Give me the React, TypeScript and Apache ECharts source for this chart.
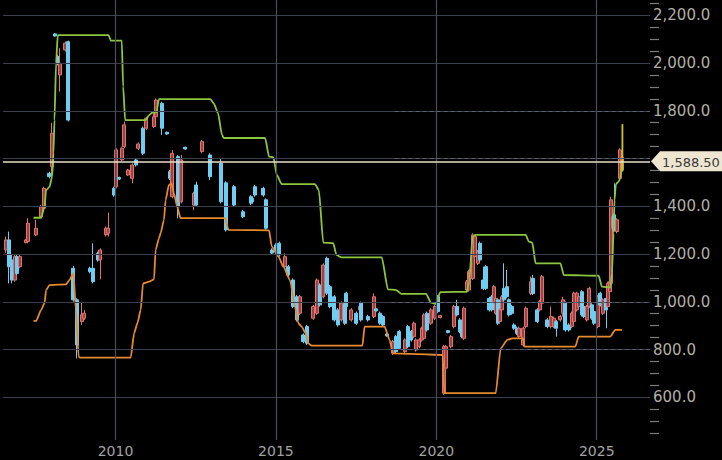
import React, { useEffect, useRef } from 'react';
import * as echarts from 'echarts';

// ---- axis ticks / ranges ----
const xTickYears = [2010, 2015, 2020, 2025];
const yGridValues = [600, 800, 1000, 1200, 1400, 1600, 1800, 2000, 2200];
const yLabelValues = [600, 800, 1000, 1200, 1400, 1800, 2000, 2200];
const xRange = [2006.494, 2026.66];
const yRange = [400, 2264];
const lastPrice = 1588.5;
const lastPriceLabel = '1,588.50';

// ---- dotted reference levels (start year, level) ----
const levelStarts = [2018.7, 2018.7, 2018.6, 2018.9];
const levelValues = [1800, 1600, 1000, 800];

// ---- candles: [year, open, close, low, high] ----
const candles2006to2010 = [
  [2006.59, 1217, 1259, 1204, 1273],
  [2006.68, 1259, 1147, 1077, 1294],
  [2006.77, 1175, 1091, 1077, 1196],
  [2006.87, 1091, 1189, 1084, 1196],
  [2006.93, 1189, 1119, 1112, 1196],
  [2007.02, 1147, 1189, 1140, 1196],
  [2007.2, 1248, 1259, 1245, 1262],
  [2007.27, 1252, 1329, 1245, 1350],
  [2007.51, 1280, 1308, 1276, 1343],
  [2007.68, 1356, 1398, 1350, 1405],
  [2007.76, 1392, 1475, 1384, 1482],
  [2007.94, 1538, 1524, 1517, 1545],
  [2008.02, 1566, 1706, 1524, 1750],
  [2008.1, 2122, 2113, 2110, 2125],
  [2008.2, 2027, 1999, 1990, 2035],
  [2008.27, 1950, 1999, 1880, 2062],
  [2008.44, 2055, 2083, 2048, 2090],
  [2008.53, 2089, 1761, 1755, 2094],
  [2008.69, 1140, 1008, 1000, 1150],
  [2008.79, 1008, 819, 763, 1015],
  [2008.95, 917, 945, 903, 1000],
  [2009.03, 931, 952, 924, 966],
  [2009.2, 1140, 1126, 1119, 1147],
  [2009.29, 1140, 1084, 1077, 1245],
  [2009.44, 1203, 1175, 1168, 1210],
  [2009.53, 1175, 1217, 1094, 1224],
  [2009.7, 1280, 1308, 1273, 1315],
  [2009.78, 1287, 1308, 1273, 1373],
  [2009.96, 1475, 1447, 1440, 1482],
  [2010.03, 1482, 1636, 1475, 1643],
  [2010.12, 1520, 1514, 1510, 1524],
  [2010.2, 1594, 1643, 1590, 1650],
  [2010.28, 1650, 1741, 1643, 1755],
  [2010.38, 1531, 1552, 1527, 1556],
  [2010.53, 1517, 1573, 1496, 1580],
  [2010.63, 1594, 1573, 1566, 1601],
  [2010.71, 1643, 1661, 1636, 1668],
  [2010.86, 1727, 1622, 1615, 1734],
  [2010.96, 1727, 1769, 1720, 1775],
];

const candles2011to2015 = [
  [2011.2, 1734, 1775, 1727, 1790],
  [2011.27, 1775, 1845, 1769, 1852],
  [2011.44, 1831, 1727, 1699, 1838],
  [2011.61, 1710, 1703, 1699, 1713],
  [2011.7, 1545, 1517, 1510, 1552],
  [2011.77, 1440, 1622, 1433, 1636],
  [2011.95, 1608, 1398, 1350, 1615],
  [2012.05, 1419, 1594, 1412, 1615],
  [2012.18, 1647, 1640, 1636, 1650],
  [2012.44, 1405, 1454, 1384, 1461],
  [2012.52, 1489, 1405, 1398, 1503],
  [2012.7, 1629, 1671, 1622, 1678],
  [2012.94, 1615, 1524, 1510, 1622],
  [2013.29, 1580, 1419, 1412, 1601],
  [2013.45, 1498, 1301, 1294, 1505],
  [2013.7, 1482, 1405, 1398, 1489],
  [2013.96, 1377, 1356, 1350, 1384],
  [2014.22, 1440, 1413, 1405, 1447],
  [2014.27, 1433, 1419, 1412, 1440],
  [2014.35, 1482, 1447, 1440, 1489],
  [2014.61, 1475, 1447, 1440, 1482],
  [2014.69, 1427, 1308, 1301, 1433],
  [2014.87, 1217, 1204, 1196, 1224],
  [2015.0, 1238, 1210, 1203, 1245],
  [2015.11, 1245, 1196, 1189, 1252],
  [2015.28, 1147, 1189, 1140, 1203],
  [2015.39, 1147, 1112, 1105, 1154],
  [2015.52, 1091, 980, 973, 1098],
  [2015.65, 1021, 924, 917, 1028],
  [2015.75, 952, 1021, 945, 1028],
  [2015.86, 861, 833, 826, 868],
  [2015.96, 896, 826, 819, 903],
];

const candles2016to2020 = [
  [2016.17, 931, 980, 924, 987],
  [2016.27, 952, 1091, 945, 1098],
  [2016.37, 1070, 987, 980, 1077],
  [2016.48, 1021, 1154, 1014, 1161],
  [2016.6, 1182, 1036, 1028, 1189],
  [2016.68, 1063, 980, 973, 1070],
  [2016.82, 1021, 924, 917, 1028],
  [2016.94, 966, 903, 896, 973],
  [2017.04, 924, 994, 917, 1001],
  [2017.15, 994, 910, 903, 1001],
  [2017.2, 1036, 980, 973, 1042],
  [2017.35, 924, 966, 917, 973],
  [2017.51, 952, 910, 903, 959],
  [2017.61, 966, 980, 959, 987],
  [2017.66, 994, 924, 917, 1001],
  [2017.87, 938, 924, 917, 945],
  [2018.06, 938, 1021, 931, 1035],
  [2018.13, 970, 962, 959, 973],
  [2018.23, 952, 910, 903, 959],
  [2018.34, 938, 903, 896, 945],
  [2018.47, 865, 857, 854, 868],
  [2018.65, 784, 833, 777, 840],
  [2018.73, 854, 791, 784, 861],
  [2018.85, 875, 805, 798, 882],
  [2019.01, 791, 840, 784, 847],
  [2019.11, 896, 812, 805, 903],
  [2019.22, 875, 840, 833, 882],
  [2019.29, 854, 910, 847, 917],
  [2019.37, 798, 840, 791, 847],
  [2019.47, 812, 840, 805, 847],
  [2019.55, 840, 889, 833, 896],
  [2019.61, 847, 945, 840, 952],
  [2019.7, 952, 882, 875, 959],
  [2019.82, 910, 966, 903, 973],
  [2019.96, 931, 980, 924, 987],
  [2020.06, 1021, 959, 952, 1028],
  [2020.13, 934, 942, 931, 945],
  [2020.23, 617, 812, 610, 819],
  [2020.3, 722, 812, 715, 819],
  [2020.37, 879, 871, 868, 882],
  [2020.46, 812, 854, 805, 861],
  [2020.54, 896, 980, 889, 987],
  [2020.63, 980, 945, 938, 1008],
  [2020.74, 924, 875, 868, 931],
  [2020.8, 896, 854, 847, 903],
  [2020.87, 847, 973, 840, 980],
  [2020.95, 1049, 1084, 1042, 1091],
];

const candles2021to2025 = [
  [2021.01, 1049, 1126, 1042, 1133],
  [2021.06, 1098, 1133, 1091, 1140],
  [2021.13, 1098, 1280, 1091, 1287],
  [2021.21, 1189, 1273, 1182, 1280],
  [2021.29, 1161, 1210, 1154, 1217],
  [2021.36, 1245, 1175, 1168, 1252],
  [2021.47, 1091, 1056, 1049, 1147],
  [2021.55, 1147, 1056, 1049, 1154],
  [2021.65, 1014, 966, 959, 1021],
  [2021.73, 1021, 966, 959, 1028],
  [2021.8, 1000, 1063, 994, 1070],
  [2021.85, 952, 1014, 945, 1021],
  [2021.92, 1008, 910, 903, 1014],
  [2021.98, 917, 966, 910, 973],
  [2022.04, 966, 1021, 959, 1028],
  [2022.11, 1056, 1008, 1001, 1161],
  [2022.19, 1063, 1021, 1014, 1133],
  [2022.27, 1008, 945, 938, 1014],
  [2022.35, 980, 952, 945, 987],
  [2022.42, 903, 889, 882, 910],
  [2022.5, 889, 868, 861, 896],
  [2022.58, 854, 889, 847, 896],
  [2022.71, 819, 889, 812, 896],
  [2022.78, 896, 973, 889, 980],
  [2022.94, 1035, 1084, 1028, 1105],
  [2023.02, 1098, 1035, 1028, 1112],
  [2023.15, 966, 917, 910, 973],
  [2023.23, 966, 1000, 959, 1008],
  [2023.3, 994, 1105, 987, 1112],
  [2023.46, 924, 896, 889, 931],
  [2023.56, 896, 938, 889, 980],
  [2023.66, 896, 931, 889, 938],
  [2023.74, 917, 889, 854, 924],
  [2023.87, 924, 938, 917, 945],
  [2023.95, 952, 1008, 938, 1021],
  [2024.02, 994, 882, 875, 1001],
  [2024.13, 903, 882, 875, 910],
  [2024.23, 896, 952, 889, 959],
  [2024.28, 917, 1036, 910, 1042],
  [2024.37, 966, 1036, 959, 1042],
  [2024.44, 980, 1021, 973, 1028],
  [2024.54, 1042, 945, 938, 1049],
  [2024.61, 980, 938, 931, 987],
  [2024.7, 924, 980, 917, 987],
  [2024.77, 980, 1056, 973, 1063],
  [2024.85, 987, 931, 924, 994],
  [2024.92, 959, 910, 903, 966],
  [2025.03, 896, 1021, 889, 1028],
  [2025.11, 1036, 987, 980, 1042],
  [2025.19, 952, 1008, 945, 1014],
  [2025.3, 1014, 966, 889, 1021],
  [2025.35, 980, 1077, 973, 1084],
  [2025.4, 1042, 1084, 1035, 1091],
  [2025.45, 1077, 1427, 1070, 1440],
  [2025.52, 1308, 1356, 1294, 1370],
  [2025.55, 1364, 1301, 1294, 1496],
  [2025.63, 1294, 1343, 1287, 1350],
  [2025.71, 1517, 1636, 1510, 1643],
  [2025.78, 1552, 1605, 1545, 1612],
];

// ---- upper channel (green) ----
const upperYears = [
  2007.446, 2007.682, 2007.788, 2007.837, 2007.943, 2008.024, 2008.067, 2008.098, 2008.148, 2008.2,
  2009.783, 2009.854, 2010.196, 2010.239, 2010.301, 2010.94, 2011.046, 2011.148, 2011.272, 2011.356,
  2012.957, 2013.063, 2013.196, 2013.32, 2013.373, 2014.663, 2014.787, 2014.924, 2015.027, 2015.182,
  2016.215, 2016.339, 2016.476, 2016.786, 2016.888, 2017.043, 2018.3, 2018.492, 2018.75, 2018.905,
  2019.681, 2019.836, 2019.991, 2020.124, 2020.953, 2021.025, 2021.13, 2021.232, 2022.784, 2022.886,
  2022.992, 2023.094, 2023.87, 2023.972, 2025.058, 2025.163, 2025.421, 2025.474, 2025.523, 2025.554,
  2025.597, 2025.678, 2025.732, 2025.784,
];
const upperValues = [
  1352, 1352, 1398, 1468, 1481, 1524, 1623, 1761, 1999, 2117,
  2117, 2094, 2094, 1901, 1761, 1761, 1782, 1792, 1792, 1849,
  1849, 1831, 1790, 1699, 1686, 1686, 1608, 1605, 1531, 1493,
  1493, 1468, 1248, 1245, 1196, 1186, 1186, 1052, 1049, 1033,
  1033, 996, 991, 1040, 1042, 1084, 1273, 1280, 1280, 1252,
  1248, 1161, 1161, 1112, 1109, 1063, 1059, 1119, 1287, 1426,
  1493, 1503, 1517, 1594,
];

// ---- lower channel (orange) ----
const lowerYears = [
  2007.446, 2007.527, 2007.682, 2007.788, 2007.837, 2007.943, 2008.458, 2008.563, 2008.688, 2008.768,
  2008.852, 2008.892, 2010.475, 2010.58, 2010.683, 2010.785, 2010.86, 2011.046, 2011.201, 2011.251,
  2011.356, 2011.406, 2011.511, 2011.561, 2011.666, 2011.747, 2011.821, 2011.924, 2012.026, 2013.413,
  2013.522, 2014.787, 2014.871, 2015.079, 2015.234, 2015.439, 2015.594, 2015.699, 2015.802, 2015.926,
  2016.01, 2016.112, 2017.695, 2017.766, 2018.387, 2018.542, 2018.647, 2020.199, 2020.248, 2021.852,
  2022.007, 2022.215, 2022.37, 2022.699, 2022.752, 2024.334, 2024.437, 2025.421, 2025.576, 2025.784,
];
const lowerValues = [
  920, 920, 966, 994, 1049, 1070, 1073, 1091, 1119, 966,
  770, 766, 766, 868, 910, 966, 1077, 1084, 1094, 1217,
  1266, 1287, 1343, 1426, 1489, 1496, 1454, 1398, 1350, 1350,
  1301, 1299, 1231, 1189, 1147, 1091, 980, 910, 896, 868,
  826, 816, 816, 896, 896, 840, 784, 777, 617, 617,
  805, 840, 847, 847, 812, 812, 854, 854, 882, 882,
];

// ---- current bar range (yellow) ----
const currentBarYear = 2025.8;
const currentBarRange = [1545, 1744];

const FONT = "'DejaVu Sans', Verdana, sans-serif";

export default function App() {
  const ref = useRef<HTMLDivElement>(null);

  useEffect(() => {
    if (!ref.current) return;
    const chart = echarts.init(ref.current, null, { renderer: 'svg' });

    const candleData = [
      ...candles2006to2010,
      ...candles2011to2015,
      ...candles2016to2020,
      ...candles2021to2025,
    ];

    const gridMarks: any[] = [
      ...yGridValues.map((v) => ({ yAxis: v, lineStyle: { color: '#3a3f4b', width: 1.2, type: 'solid' } })),
      ...xTickYears.map((yr) => [
        { coord: [yr, 421], lineStyle: { color: '#474d5a', width: 1.2, type: 'solid' } },
        { coord: [yr, yRange[1]] },
      ]),
      ...levelValues.map((v, i) => [
        { coord: [levelStarts[i], v], lineStyle: { color: '#5d6372', width: 1.2, type: [4, 3] } },
        { coord: [xRange[1], v] },
      ]),
    ];

    const option: any = {
      animation: false,
      backgroundColor: '#000000',
      grid: { left: 0, right: 72, top: 0, bottom: 15, containLabel: false },
      xAxis: {
        type: 'value',
        min: xRange[0],
        max: xRange[1],
        splitNumber: 5,
        axisLine: { show: false },
        axisTick: { show: false },
        splitLine: { show: false },
        axisLabel: {
          margin: -1,
          color: '#a3a3a3',
          fontSize: 14,
          fontFamily: FONT,
          formatter: (v: number) => (xTickYears.indexOf(Math.round(v * 1000) / 1000) >= 0 ? String(v) : ''),
        },
      },
      yAxis: {
        type: 'value',
        position: 'right',
        min: yRange[0],
        max: yRange[1],
        interval: 200,
        axisLine: { show: false },
        axisTick: { show: false },
        splitLine: { show: false },
        minorTick: { show: true, splitNumber: 4, length: 9, lineStyle: { color: '#7d7d7d', width: 1.2 } },
        axisLabel: {
          margin: 3,
          color: '#b1aea4',
          fontSize: 15,
          fontFamily: FONT,
          showMinLabel: false,
          showMaxLabel: false,
          formatter: (v: number) =>
            yLabelValues.indexOf(v) >= 0
              ? v.toLocaleString('en-US', { minimumFractionDigits: 1, maximumFractionDigits: 1 })
              : '',
        },
      },
      series: [
        {
          name: 'grid',
          type: 'line',
          data: [],
          z: 1,
          silent: true,
          markLine: {
            silent: true,
            symbol: ['none', 'none'],
            label: { show: false },
            emphasis: { disabled: true },
            lineStyle: { type: 'solid' },
            data: gridMarks,
          },
        },
        {
          name: 'price',
          type: 'candlestick',
          z: 2,
          barWidth: 3.5,
          data: candleData,
          itemStyle: {
            color: '#9a4444',
            color0: '#6fcdf2',
            borderColor: '#e2716f',
            borderColor0: '#6fcdf2',
            borderWidth: 1,
          },
        },
        {
          name: 'upper',
          type: 'line',
          z: 3,
          showSymbol: false,
          smooth: 0.2,
          smoothMonotone: 'x',
          data: upperYears.map((x, i) => [x, upperValues[i]]),
          lineStyle: { color: '#8cc63f', width: 1.8 },
        },
        {
          name: 'lower',
          type: 'line',
          z: 3,
          showSymbol: false,
          smooth: 0.2,
          smoothMonotone: 'x',
          data: lowerYears.map((x, i) => [x, lowerValues[i]]),
          lineStyle: { color: '#e68a2e', width: 1.8 },
        },
        {
          name: 'current',
          type: 'line',
          z: 3,
          showSymbol: false,
          data: currentBarRange.map((v) => [currentBarYear, v]),
          lineStyle: { color: '#c9c52a', width: 1.8 },
        },
        {
          name: 'last',
          type: 'line',
          data: [],
          z: 4,
          silent: true,
          markLine: {
            silent: true,
            symbol: ['none', 'none'],
            label: { show: false },
            emphasis: { disabled: true },
            lineStyle: { color: '#e9dfc7', width: 1.6, type: 'solid' },
            data: [{ yAxis: lastPrice }],
          },
        },
      ],
    };

    chart.setOption(option);

    const py = chart.convertToPixel({ yAxisIndex: 0 }, lastPrice) as number;
    const px = chart.convertToPixel({ xAxisIndex: 0 }, xRange[1]) as number;

    chart.setOption({
      graphic: [
        {
          type: 'group',
          x: px + 1,
          y: py,
          z: 10,
          children: [
            {
              type: 'polygon',
              shape: { points: [[0, 0], [9, -10], [80, -10], [80, 10], [9, 10]] },
              style: { fill: '#efe6d1' },
            },
            {
              type: 'text',
              x: 11,
              y: 1,
              style: {
                text: lastPriceLabel,
                fill: '#3a3a3a',
                font: `13px ${FONT}`,
                verticalAlign: 'middle',
                textVerticalAlign: 'middle',
              },
            },
          ],
        },
      ],
    });

    return () => chart.dispose();
  }, []);

  return <div ref={ref} style={{ position: 'fixed', left: 0, top: 0, width: 722, height: 460 }} />;
}
